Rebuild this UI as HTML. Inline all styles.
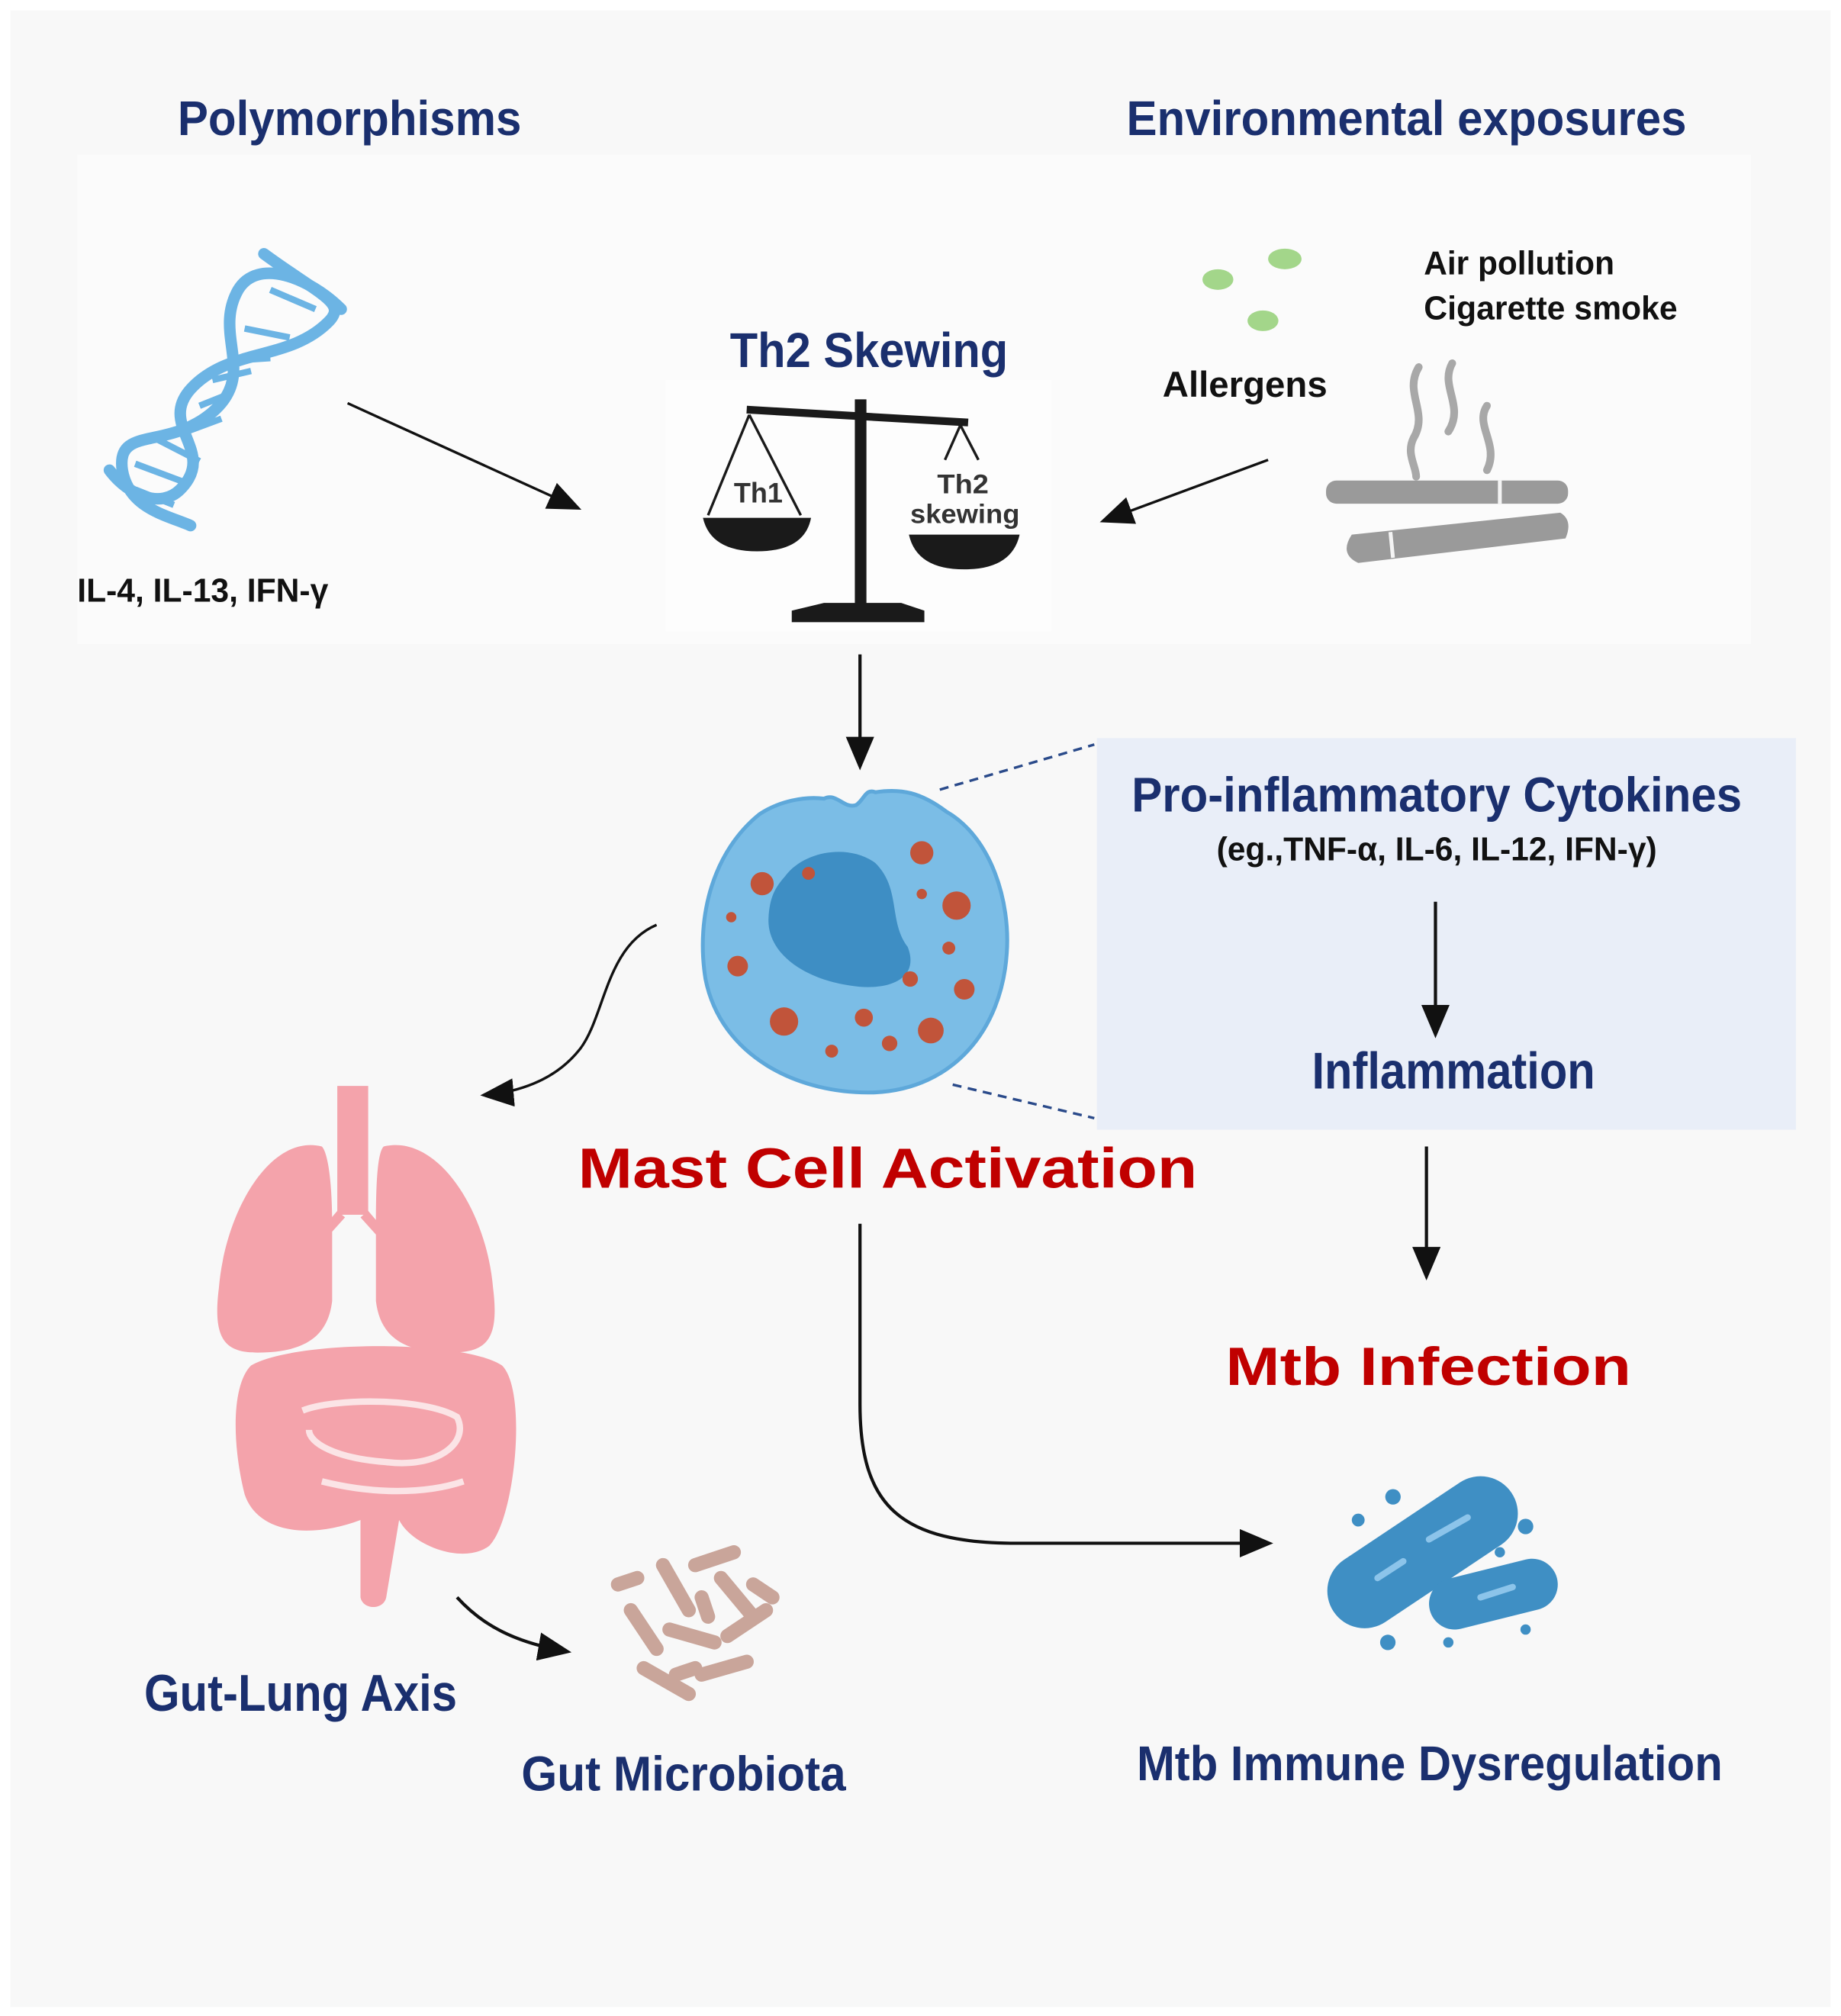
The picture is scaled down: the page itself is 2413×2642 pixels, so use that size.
<!DOCTYPE html>
<html><head><meta charset="utf-8"><style>
html,body{margin:0;padding:0;background:#fff}
svg{display:block}
text{font-family:"Liberation Sans",sans-serif;font-weight:bold}
</style></head><body>
<svg width="2413" height="2642" viewBox="0 0 1430 1565" preserveAspectRatio="none" xmlns="http://www.w3.org/2000/svg">
<defs>
<marker id="ah" markerWidth="10" markerHeight="10" refX="8" refY="5" orient="auto" markerUnits="userSpaceOnUse" viewBox="0 0 10 10">
<path d="M0,0 L10,5 L0,10 z" fill="#111"/></marker>
<marker id="ah2" markerWidth="26" markerHeight="22" refX="22" refY="11" orient="auto" markerUnits="userSpaceOnUse" viewBox="0 0 26 22">
<path d="M0,0 L26,11 L0,22 z" fill="#111"/></marker>
</defs>
<rect width="1430" height="1565" fill="#fff"/>
<rect x="8" y="8" width="1414" height="1550" fill="#f8f8f8"/>
<rect x="60" y="120" width="1300" height="380" fill="#fbfbfb"/>
<rect x="517" y="295" width="300" height="195" fill="#fdfdfd"/>

<!-- Titles -->
<text x="138" y="105" font-size="38" fill="#1a2f6e" textLength="267" lengthAdjust="spacingAndGlyphs">Polymorphisms</text>
<text x="875" y="105" font-size="38" fill="#1a2f6e" textLength="435" lengthAdjust="spacingAndGlyphs">Environmental exposures</text>

<!-- DNA -->
<g stroke="#6cb4e4" stroke-width="9" fill="none" stroke-linecap="round">
<path d="M205,197 C250,230 270,235 255,250 C225,280 180,270 150,300 C120,330 170,350 140,380 C125,395 100,385 85,365"/>
<path d="M265,240 C240,215 200,200 185,225 C165,260 200,290 165,320 C130,350 90,330 95,365 C100,395 130,400 148,408"/>
</g>
<g stroke="#6cb4e4" stroke-width="5">
<line x1="210" y1="225" x2="245" y2="240"/><line x1="190" y1="255" x2="225" y2="262"/>
<line x1="180" y1="280" x2="210" y2="278"/><line x1="165" y1="295" x2="195" y2="288"/>
<line x1="155" y1="315" x2="180" y2="305"/><line x1="145" y1="335" x2="172" y2="325"/>
<line x1="120" y1="340" x2="155" y2="358"/><line x1="105" y1="360" x2="145" y2="375"/>
<line x1="105" y1="380" x2="135" y2="392"/>
</g>
<text x="60" y="467" font-size="26" fill="#111" textLength="195" lengthAdjust="spacingAndGlyphs">IL-4, IL-13, IFN-γ</text>
<line x1="270" y1="313" x2="448" y2="394" stroke="#111" stroke-width="2" marker-end="url(#ah2)"/>

<!-- Th2 skewing -->
<text x="567" y="285" font-size="38" fill="#1a2f6e" textLength="216" lengthAdjust="spacingAndGlyphs">Th2 Skewing</text>
<g fill="#1a1a1a" stroke="#1a1a1a">
<line x1="580" y1="318" x2="752" y2="328" stroke-width="6"/>
<rect x="664" y="310" width="9" height="162" stroke="none"/>
<path d="M640,468 L700,468 L718,474 L718,483 L615,483 L615,474 Z" stroke="none"/>
<path d="M582,322 L550,400 M582,322 L622,400" fill="none" stroke-width="2"/>
<path d="M546,402 L630,402 Q625,428 588,428 Q552,428 546,402 Z" stroke="none"/>
<path d="M746,330 L734,357 M746,330 L760,357" fill="none" stroke-width="2"/>
<path d="M706,415 L792,415 Q786,442 749,442 Q712,442 706,415 Z" stroke="none"/>
</g>
<text x="570" y="390" font-size="22" fill="#333" textLength="38" lengthAdjust="spacingAndGlyphs">Th1</text>
<text x="728" y="383" font-size="21" fill="#333" textLength="40" lengthAdjust="spacingAndGlyphs">Th2</text>
<text x="707" y="406" font-size="21" fill="#333" textLength="85" lengthAdjust="spacingAndGlyphs">skewing</text>

<!-- Allergens -->
<ellipse cx="946" cy="217" rx="12" ry="8" fill="#a3d68a"/>
<ellipse cx="998" cy="201" rx="13" ry="8" fill="#a3d68a"/>
<ellipse cx="981" cy="249" rx="12" ry="8" fill="#a3d68a"/>
<text x="903" y="308" font-size="28" fill="#111" textLength="128" lengthAdjust="spacingAndGlyphs">Allergens</text>
<text x="1106" y="213" font-size="26" fill="#111" textLength="148" lengthAdjust="spacingAndGlyphs">Air pollution</text>
<text x="1106" y="248" font-size="26" fill="#111" textLength="197" lengthAdjust="spacingAndGlyphs">Cigarette smoke</text>
<!-- cigarettes -->
<g fill="none" stroke="#a8a8a8" stroke-width="6" stroke-linecap="round">
<path d="M1102,285 C1090,305 1110,320 1098,340 C1092,352 1100,362 1100,370"/>
<path d="M1128,282 C1118,300 1138,315 1125,335"/>
<path d="M1155,315 C1145,330 1165,345 1155,365"/>
</g>
<rect x="1030" y="373" width="188" height="18" rx="8" fill="#9a9a9a"/>
<line x1="1165" y1="373" x2="1165" y2="391" stroke="#f4f4f4" stroke-width="3"/>
<path d="M1050,415 L1212,398 Q1222,404 1216,418 L1055,437 Q1040,430 1050,415 Z" fill="#9a9a9a"/>
<line x1="1080" y1="413" x2="1082" y2="433" stroke="#f4f4f4" stroke-width="3"/>
<line x1="985" y1="357" x2="858" y2="404" stroke="#111" stroke-width="2" marker-end="url(#ah2)"/>

<line x1="668" y1="508" x2="668" y2="594" stroke="#111" stroke-width="2.5" marker-end="url(#ah2)"/>

<!-- Box -->
<rect x="852" y="573" width="543" height="304" fill="#e9eef8"/>
<text x="879" y="630" font-size="38" fill="#1a2f6e" textLength="474" lengthAdjust="spacingAndGlyphs">Pro-inflammatory Cytokines</text>
<text x="945" y="668" font-size="26" fill="#111" textLength="342" lengthAdjust="spacingAndGlyphs">(eg.,TNF-α, IL-6, IL-12, IFN-γ)</text>
<line x1="1115" y1="700" x2="1115" y2="802" stroke="#111" stroke-width="2.5" marker-end="url(#ah2)"/>
<text x="1019" y="845" font-size="40" fill="#1a2f6e" textLength="220" lengthAdjust="spacingAndGlyphs">Inflammation</text>
<line x1="730" y1="613" x2="850" y2="578" stroke="#2a4a8a" stroke-width="2" stroke-dasharray="7,5"/>
<line x1="740" y1="842" x2="850" y2="868" stroke="#2a4a8a" stroke-width="2" stroke-dasharray="7,5"/>

<!-- Mast cell -->
<path d="M640,620 C650,615 655,628 665,625 C672,620 672,612 680,615 C700,612 715,615 735,630 C770,650 785,700 782,740 C778,800 740,845 680,848 C620,850 560,820 548,760 C540,710 555,660 590,632 C605,622 625,618 640,620 Z" fill="#7bbde6" stroke="#5ea8da" stroke-width="3"/>
<path d="M610,680 C625,660 660,655 680,670 C700,690 690,715 705,735 C715,760 690,770 660,765 C625,760 595,740 597,712 C598,695 603,688 610,680 Z" fill="#3e8ec4"/>
<g fill="#c1543a">
<circle cx="716" cy="662" r="9"/><circle cx="743" cy="703" r="11"/><circle cx="592" cy="686" r="9"/>
<circle cx="628" cy="678" r="5"/><circle cx="573" cy="750" r="8"/><circle cx="568" cy="712" r="4"/>
<circle cx="609" cy="793" r="11"/><circle cx="671" cy="790" r="7"/><circle cx="723" cy="800" r="10"/>
<circle cx="749" cy="768" r="8"/><circle cx="707" cy="760" r="6"/><circle cx="737" cy="736" r="5"/>
<circle cx="691" cy="810" r="6"/><circle cx="646" cy="816" r="5"/><circle cx="716" cy="694" r="4"/>
</g>

<text x="449" y="922" font-size="44" fill="#c00000" textLength="481" lengthAdjust="spacingAndGlyphs">Mast Cell Activation</text>
<line x1="1108" y1="890" x2="1108" y2="990" stroke="#111" stroke-width="2.5" marker-end="url(#ah2)"/>
<text x="952" y="1075" font-size="42" fill="#c00000" textLength="315" lengthAdjust="spacingAndGlyphs">Mtb Infection</text>

<path d="M510,718 C470,735 470,790 450,815 C430,840 400,848 377,850" fill="none" stroke="#111" stroke-width="2" marker-end="url(#ah2)"/>

<!-- Lungs & intestine -->
<g fill="#f4a3ab">
<rect x="262" y="843" width="24" height="100"/>
<path d="M262,940 L245,960 L250,965 L268,945 Z M286,940 L303,960 L298,965 L280,945 Z"/>
<path d="M250,890 C210,880 175,940 170,1000 C165,1040 175,1050 200,1050 C240,1050 255,1035 258,1010 L258,950 C258,920 255,895 250,890 Z"/>
<path d="M298,890 C340,880 378,940 383,1000 C388,1040 378,1050 350,1050 C310,1050 295,1035 292,1010 L292,950 C292,920 293,895 298,890 Z"/>
<path d="M195,1060 C230,1040 360,1040 390,1060 C410,1080 400,1180 380,1200 C360,1215 320,1200 310,1180 L300,1240 C298,1250 282,1250 280,1240 L280,1180 C240,1195 200,1190 190,1160 C180,1120 180,1075 195,1060 Z"/>
</g>
<g fill="none" stroke="#fbe4e6" stroke-width="5">
<path d="M235,1095 C260,1085 330,1085 355,1100 C365,1120 340,1140 300,1135 C260,1132 240,1120 240,1110"/>
<path d="M250,1150 C290,1160 330,1160 360,1150"/>
</g>

<text x="112" y="1328" font-size="40" fill="#1a2f6e" textLength="243" lengthAdjust="spacingAndGlyphs">Gut-Lung Axis</text>
<path d="M355,1240 C375,1262 400,1275 440,1282" fill="none" stroke="#111" stroke-width="2.5" marker-end="url(#ah2)"/>

<!-- microbiota -->
<g stroke="#c9a59a" stroke-width="11" stroke-linecap="round">
<line x1="515" y1="1215" x2="535" y2="1250"/><line x1="540" y1="1215" x2="570" y2="1205"/>
<line x1="560" y1="1225" x2="585" y2="1255"/><line x1="490" y1="1250" x2="510" y2="1280"/>
<line x1="520" y1="1265" x2="555" y2="1275"/><line x1="565" y1="1270" x2="595" y2="1250"/>
<line x1="500" y1="1295" x2="535" y2="1315"/><line x1="545" y1="1300" x2="580" y2="1290"/>
<line x1="480" y1="1230" x2="495" y2="1225"/><line x1="585" y1="1230" x2="600" y2="1240"/>
<line x1="545" y1="1240" x2="550" y2="1255"/><line x1="525" y1="1300" x2="540" y2="1295"/>
</g>
<text x="405" y="1390" font-size="38" fill="#1a2f6e" textLength="252" lengthAdjust="spacingAndGlyphs">Gut Microbiota</text>

<path d="M668,950 L668,1090 C668,1170 700,1198 790,1198 L985,1198" fill="none" stroke="#111" stroke-width="2.5" marker-end="url(#ah2)"/>

<!-- Mtb -->
<line x1="1060" y1="1235" x2="1150" y2="1175" stroke="#3f8fc4" stroke-width="58" stroke-linecap="round"/>
<line x1="1130" y1="1245" x2="1190" y2="1230" stroke="#3f8fc4" stroke-width="40" stroke-linecap="round"/>
<g stroke="#8cc4ea" stroke-width="5" stroke-linecap="round">
<line x1="1070" y1="1225" x2="1090" y2="1212"/><line x1="1110" y1="1195" x2="1140" y2="1178"/>
<line x1="1150" y1="1240" x2="1175" y2="1232"/>
</g>
<g fill="#3f8fc4">
<circle cx="1082" cy="1162" r="6"/><circle cx="1055" cy="1180" r="5"/><circle cx="1185" cy="1185" r="6"/>
<circle cx="1078" cy="1275" r="6"/><circle cx="1125" cy="1275" r="4"/><circle cx="1185" cy="1265" r="4"/>
<circle cx="1165" cy="1205" r="4"/>
</g>
<text x="883" y="1382" font-size="38" fill="#1a2f6e" textLength="455" lengthAdjust="spacingAndGlyphs">Mtb Immune Dysregulation</text>
</svg>
</body></html>
